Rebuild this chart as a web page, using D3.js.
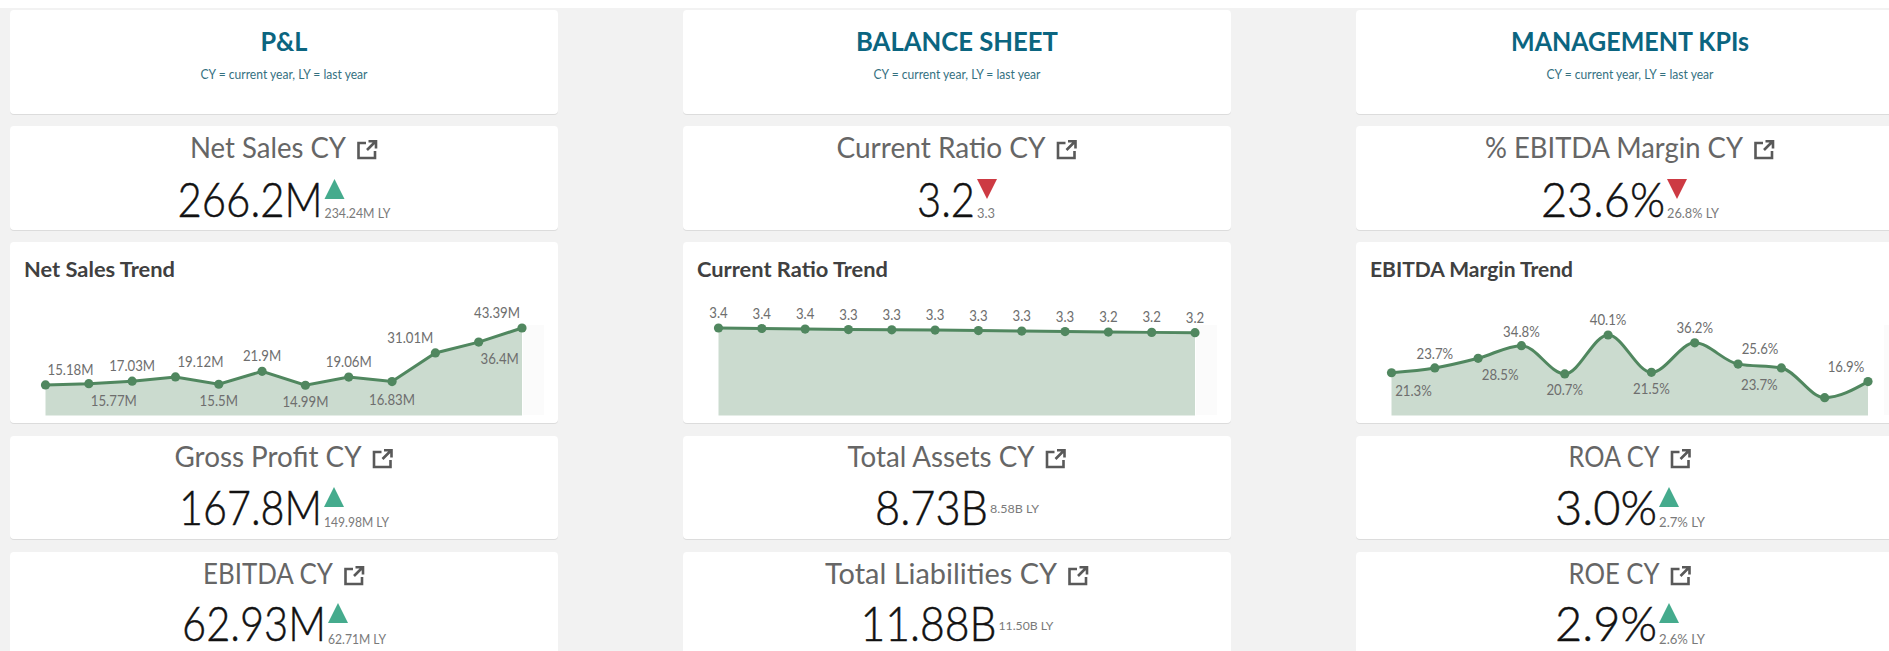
<!DOCTYPE html>
<html>
<head>
<meta charset="utf-8">
<script src="https://cdnjs.cloudflare.com/ajax/libs/d3/7.8.5/d3.min.js"></script>
<style>
html, body { margin: 0; padding: 0; background: #fff; overflow: hidden; }
svg { display: block; }
text { font-family: "Lato", "Noto Sans", sans-serif; }
</style>
</head>
<body>
<svg id="board" width="1889" height="651"></svg>
<script>
// column headers
var headers = ["P&L", "BALANCE SHEET", "MANAGEMENT KPIs"];
var headerNote = "CY = current year, LY = last year";

// kpi cards, one list per column: [title, value, last year label, direction]
var plKpis = [
	["Net Sales CY", "266.2M", "234.24M LY", "up"],
	["Gross Profit CY", "167.8M", "149.98M LY", "up"],
	["EBITDA CY", "62.93M", "62.71M LY", "up"]
];
var bsKpis = [
	["Current Ratio CY", "3.2", "3.3", "down"],
	["Total Assets CY", "8.73B", "8.58B LY", "none"],
	["Total Liabilities CY", "11.88B", "11.50B LY", "none"]
];
var mgmtKpis = [
	["% EBITDA Margin CY", "23.6%", "26.8% LY", "down"],
	["ROA CY", "3.0%", "2.7% LY", "up"],
	["ROE CY", "2.9%", "2.6% LY", "up"]
];

// trend series
var trendTitles = ["Net Sales Trend", "Current Ratio Trend", "EBITDA Margin Trend"];
var netSales = [15.18, 15.77, 17.03, 19.12, 15.5, 21.9, 14.99, 19.06, 16.83, 31.01, 36.4, 43.39];
var currentRatio = [3.4, 3.38, 3.36, 3.34, 3.33, 3.32, 3.3, 3.28, 3.26, 3.24, 3.23, 3.22];
var ebitdaMargin = [21.3, 23.7, 28.5, 34.8, 20.7, 40.1, 21.5, 36.2, 25.6, 23.7, 8.9, 16.9];

var netSalesLabels = ["15.18M", "15.77M", "17.03M", "19.12M", "15.5M", "21.9M", "14.99M", "19.06M", "16.83M", "31.01M", "36.4M", "43.39M"];
var currentRatioLabels = ["3.4", "3.4", "3.4", "3.3", "3.3", "3.3", "3.3", "3.3", "3.3", "3.2", "3.2", "3.2"];
var ebitdaMarginLabels = ["21.3%", "23.7%", "28.5%", "34.8%", "20.7%", "40.1%", "21.5%", "36.2%", "25.6%", "23.7%", "", "16.9%"];

// label nudges relative to the point they belong to
var netSalesNudge = [[25,-10],[25,22],[0,-10],[25,-10],[0,22],[0,-10],[0,22],[0,-10],[0,23],[-25,-10],[21,22],[-25,-10]];
var currentRatioNudge = [[0,-10],[0,-10],[0,-10],[0,-10],[0,-10],[0,-10],[0,-10],[0,-10],[0,-10],[0,-10],[0,-10],[0,-10]];
var ebitdaMarginNudge = [[22,23],[0,-9],[22,22],[0,-9],[0,21],[0,-10],[0,22],[0,-10],[22,-10],[-22,22],[0,0],[-22,-10]];

var colours = { bg: "#f2f2f2", head: "#0b6580", line: "#50875f", area: "#cbdbcf", up: "#45ab8d", down: "#cd3a43" };

var columnX = [10, 683, 1356];
var cardW = 548;
var stripStart = [0, 0, 15];

// Lato runs wider than the dashboard font, so text gets squeezed to the width it has there
var textWidths = {
	"P&L": 47, "BALANCE SHEET": 202, "MANAGEMENT KPIs": 238,
	"Net Sales CY": 156, "Gross Profit CY": 187, "EBITDA CY": 130,
	"Current Ratio CY": 209, "Total Assets CY": 187, "Total Liabilities CY": 232,
	"% EBITDA Margin CY": 258, "ROA CY": 91, "ROE CY": 91,
	"266.2M": 145, "167.8M": 143, "62.93M": 144, "3.2": 58, "8.73B": 113, "11.88B": 136,
	"23.6%": 124, "3.0%": 102, "2.9%": 102,
	"234.24M LY": 66, "149.98M LY": 65, "62.71M LY": 58, "3.3": 18, "8.58B LY": 49, "11.50B LY": 55,
	"26.8% LY": 52, "2.7% LY": 46, "2.6% LY": 46,
	"Net Sales Trend": 151, "Current Ratio Trend": 191, "EBITDA Margin Trend": 203
};

function fit(sel, width) {
	sel.attr("textLength", width).attr("lengthAdjust", "spacingAndGlyphs");
	return width;
}

var svg = d3.select("#board");
svg.append("rect").attr("y", 8).attr("width", 1889).attr("height", 643).attr("fill", colours.bg);

function card(x, y, h) {
	svg.append("rect").attr("x", x).attr("y", y + 1).attr("width", cardW).attr("height", h).attr("rx", 4).attr("fill", "#dcdcdc");
	svg.append("rect").attr("x", x).attr("y", y).attr("width", cardW).attr("height", h).attr("rx", 4).attr("fill", "#fff");
}

function drawHeader(i) {
	var x = columnX[i], cx = x + cardW / 2;
	card(x, 10, 104);
	var t = svg.append("text").attr("x", cx).attr("y", 51).attr("text-anchor", "middle")
		.attr("font-size", 26).attr("font-weight", 700).attr("fill", colours.head).text(headers[i]);
	fit(t, textWidths[headers[i]]);
	var note = svg.append("text").attr("x", cx).attr("y", 79).attr("text-anchor", "middle")
		.attr("font-size", 13).attr("fill", "#34707f").text(headerNote);
	fit(note, 167);
}

function linkIcon(g, x, y) {
	// the little "open in new" glyph next to kpi titles
	g.append("path").attr("transform", "translate(" + x + "," + y + ")")
		.attr("fill", "none").attr("stroke", "#595959").attr("stroke-width", 2.6)
		.attr("d", "M9 3H1.5V18H18V11M10 10L18.5 1.5M11.5 1.2H19V8.5");
}

function drawKpi(i, kpi, top, h, titleY, valueY, subY) {
	var x = columnX[i], cx = x + cardW / 2;
	card(x, top, h);

	var title = svg.append("text").attr("y", titleY).attr("font-size", 28).attr("fill", "#666").text(kpi[0]);
	var titleW = fit(title, textWidths[kpi[0]]);
	var titleLeft = cx - (titleW + 11 + 21) / 2;
	title.attr("x", titleLeft);
	linkIcon(svg, titleLeft + titleW + 11, titleY - 18);

	var value = svg.append("text").attr("y", valueY).attr("font-size", 48).attr("font-weight", 300)
		.attr("fill", "#111").attr("stroke", "#111").attr("stroke-width", 0.5).text(kpi[1]);
	var valueW = fit(value, textWidths[kpi[1]]);
	var hasArrow = kpi[3] != "none";
	var subY2 = hasArrow ? subY : subY - 14;
	var sub = svg.append("text").attr("y", subY2).attr("font-size", hasArrow ? 14 : 12).attr("fill", "#7a7a7a").text(kpi[2]);
	var subW = fit(sub, textWidths[kpi[2]]);
	var restW = Math.max(subW, hasArrow ? 20 : 0);
	var left = cx - (valueW + 2 + restW) / 2;
	value.attr("x", left);
	sub.attr("x", left + valueW + 2);

	if (hasArrow) {
		var ax = left + valueW + 2, ay = valueY - 38;
		var pts = kpi[3] == "up"
			? [[ax, ay + 20], [ax + 20, ay + 20], [ax + 10, ay]]
			: [[ax, ay], [ax + 20, ay], [ax + 10, ay + 20]];
		svg.append("path").attr("d", d3.line()(pts) + "Z").attr("fill", colours[kpi[3]]);
	}
}

function drawTrend(i, values, labels, nudge, topValue, curve) {
	var x = columnX[i];
	card(x, 242, 181);
	var t = svg.append("text").attr("x", x + 14).attr("y", 277).attr("font-size", 21).attr("font-weight", 700)
		.attr("fill", "#404040").text(trendTitles[i]);
	fit(t, textWidths[trendTitles[i]]);

	var xScale = d3.scalePoint().domain(d3.range(values.length)).range([x + 35.5, x + 512]);
	var yScale = d3.scaleLinear().domain([0, topValue]).range([415.5, 328]);

	// faint strip to the right of the plot
	var stripX = xScale(values.length - 1) + 1 + stripStart[i];
	svg.append("rect").attr("x", stripX).attr("y", 325).attr("width", 21).attr("height", 90).attr("fill", "#fbfbfb");

	var area = d3.area().x(function(d, k) { return xScale(k); }).y0(yScale(0)).y1(function(d) { return yScale(d); }).curve(curve);
	var line = d3.line().x(function(d, k) { return xScale(k); }).y(function(d) { return yScale(d); }).curve(curve);

	svg.append("path").attr("d", area(values)).attr("fill", colours.area);
	svg.append("path").attr("d", line(values)).attr("fill", "none").attr("stroke", colours.line).attr("stroke-width", 3);

	svg.selectAll("circle.p" + i).data(values).enter().append("circle").attr("class", "p" + i)
		.attr("cx", function(d, k) { return xScale(k); })
		.attr("cy", function(d) { return yScale(d); })
		.attr("r", 4.6).attr("fill", colours.line);

	svg.selectAll("text.l" + i).data(values).enter().append("text").attr("class", "l" + i)
		.attr("x", function(d, k) { return xScale(k) + nudge[k][0]; })
		.attr("y", function(d, k) { return yScale(d) + nudge[k][1]; })
		.attr("text-anchor", "middle").attr("font-size", 15).attr("fill", "#6e6e6e")
		.text(function(d, k) { return labels[k]; })
		.each(function(d, k) {
			if (labels[k]) fit(d3.select(this), this.getComputedTextLength() * 0.88);
		});
}

headers.forEach(function(h, i) { drawHeader(i); });

[plKpis, bsKpis, mgmtKpis].forEach(function(kpis, i) {
	drawKpi(i, kpis[0], 126, 104, 158, 217, 218);
	drawKpi(i, kpis[1], 436, 103, 467, 525, 527);
	drawKpi(i, kpis[2], 552, 110, 584, 641, 644);
});

drawTrend(0, netSales, netSalesLabels, netSalesNudge, 43.39, d3.curveLinear);
drawTrend(1, currentRatio, currentRatioLabels, currentRatioNudge, 3.4, d3.curveLinear);
drawTrend(2, ebitdaMargin, ebitdaMarginLabels, ebitdaMarginNudge, 40.1 * 87.5 / 80.5, d3.curveMonotoneX);
</script>
</body>
</html>
